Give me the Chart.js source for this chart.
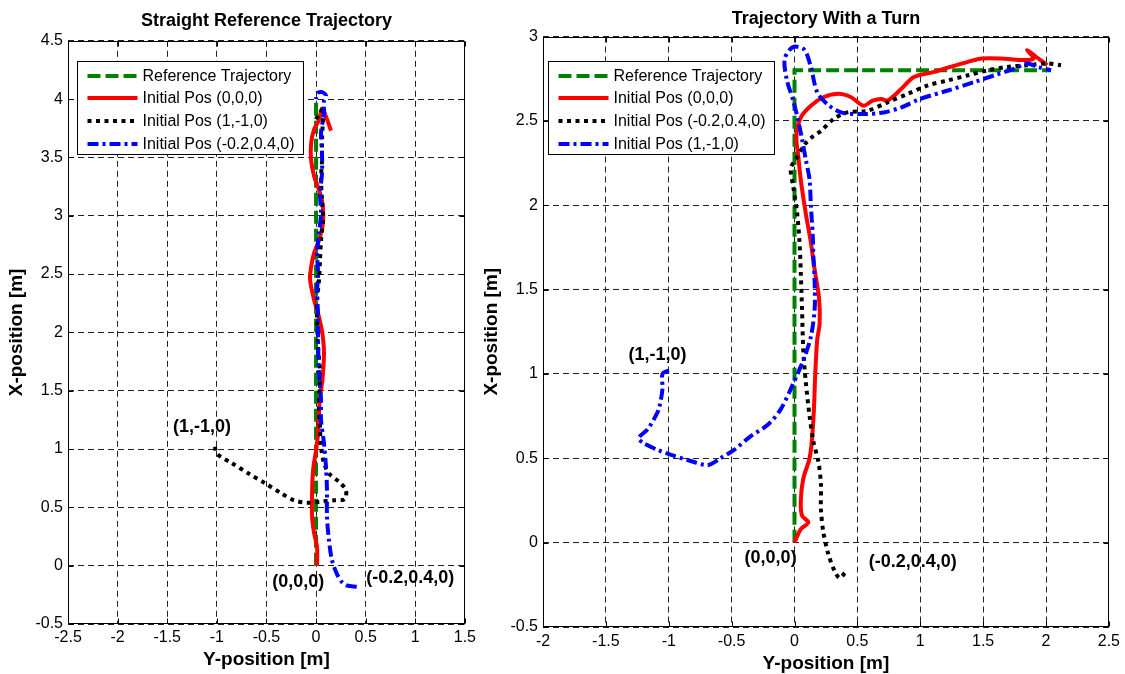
<!DOCTYPE html>
<html>
<head>
<meta charset="utf-8">
<script src="https://cdn.jsdelivr.net/npm/chart.js@4"></script>
<style>
  body { margin: 0; background: #fff; }
  #straightChart { position: absolute; left: 0; top: 0; }
  #turnChart { position: absolute; left: 480px; top: 0; }
</style>
</head>
<body>
<canvas id="straightChart" width="480" height="674"></canvas>
<canvas id="turnChart" width="645" height="674"></canvas>
<script>
// tick values
const straightXTicks = [-2.5, -2, -1.5, -1, -0.5, 0, 0.5, 1, 1.5];
const straightYTicks = [-0.5, 0, 0.5, 1, 1.5, 2, 2.5, 3, 3.5, 4, 4.5];
const turnXTicks = [-2, -1.5, -1, -0.5, 0, 0.5, 1, 1.5, 2, 2.5];
const turnYTicks = [-0.5, 0, 0.5, 1, 1.5, 2, 2.5, 3];

// series: [Y-position, X-position] pairs
const straightRef = [[0, 0], [0, 4]];
const straightRed = [[0.01, 0], [0.01, 0.16], [-0.02, 0.28], [-0.04, 0.42], [-0.04, 0.62], [-0.03, 0.82], [0, 0.99],
  [0.02, 1.13], [0.03, 1.31], [0.04, 1.45], [0.064, 1.59], [0.08, 1.82], [0.064, 1.99], [0.03, 2.13], [-0.02, 2.28],
  [-0.06, 2.45], [-0.05, 2.56], [-0.02, 2.68], [0.03, 2.79], [0.07, 2.94], [0.064, 3.11], [0.03, 3.22], [-0.02, 3.34],
  [-0.05, 3.48], [-0.05, 3.62], [-0.02, 3.74], [0.03, 3.82], [0.06, 3.92], [0.1, 3.85], [0.15, 3.73]];
const straightBlack = [[-1.02, 1.02], [-1.0, 0.96], [-0.85, 0.88], [-0.68, 0.79], [-0.52, 0.71], [-0.35, 0.62],
  [-0.22, 0.56], [-0.09, 0.54], [0.05, 0.55], [0.18, 0.56], [0.29, 0.57], [0.3, 0.65], [0.23, 0.72], [0.13, 0.79],
  [0.08, 0.88], [0.05, 1.02], [0.04, 1.19], [0.03, 1.36], [0.04, 1.65], [0.02, 1.88], [0.01, 2.11], [0.01, 2.28],
  [0.03, 2.45], [0.04, 2.62], [0.05, 2.79], [0.07, 2.96], [0.06, 3.14], [0.05, 3.31], [0.06, 3.48], [0.06, 3.65],
  [0.07, 3.82], [0.08, 3.93], [0.03, 3.87], [-0.02, 3.8]];
const straightBlue = [[0.41, -0.18], [0.31, -0.17], [0.26, -0.14], [0.21, -0.07], [0.16, 0.05], [0.13, 0.22],
  [0.11, 0.42], [0.11, 0.65], [0.1, 0.85], [0.08, 1.05], [0.05, 1.25], [0.05, 1.42], [0.03, 1.65], [0.02, 1.93],
  [0.02, 2.16], [0.01, 2.34], [0.02, 2.51], [0.01, 2.68], [0.03, 2.85], [0.05, 3.02], [0.04, 3.19], [0.06, 3.36],
  [0.06, 3.54], [0.05, 3.71], [0.08, 3.88], [0.08, 3.99], [0.1, 4.03], [0.06, 4.06], [0.01, 4.05], [0, 4.0]];

const turnRef = [[0, 0], [0, 2.8], [2.04, 2.8]];
const turnRed = [[0, 0], [0.05, 0.08], [0.11, 0.12], [0.06, 0.16], [0.05, 0.25], [0.07, 0.38], [0.12, 0.5],
  [0.14, 0.62], [0.155, 0.8], [0.165, 1.0], [0.18, 1.2], [0.2, 1.3], [0.195, 1.45], [0.16, 1.62], [0.13, 1.78],
  [0.09, 1.95], [0.05, 2.15], [0.03, 2.29], [0.015, 2.41], [0.05, 2.52], [0.13, 2.59], [0.23, 2.64], [0.35, 2.66],
  [0.45, 2.64], [0.55, 2.59], [0.62, 2.62], [0.69, 2.63], [0.74, 2.62], [0.85, 2.69], [0.95, 2.76], [1.11, 2.79],
  [1.24, 2.82], [1.38, 2.85], [1.49, 2.87], [1.64, 2.87], [1.83, 2.86], [1.9, 2.87], [1.85, 2.92], [1.92, 2.88],
  [2.01, 2.83]];
const turnBlack = [[0.4, -0.18], [0.36, -0.21], [0.32, -0.17], [0.27, -0.07], [0.23, 0.06], [0.21, 0.2],
  [0.21, 0.35], [0.19, 0.48], [0.15, 0.6], [0.12, 0.75], [0.09, 0.95], [0.07, 1.14], [0.06, 1.38], [0.05, 1.6],
  [0.04, 1.78], [0.02, 1.96], [-0.01, 2.11], [-0.03, 2.22], [0.01, 2.27], [0.08, 2.36], [0.15, 2.41], [0.21, 2.44],
  [0.31, 2.51], [0.42, 2.55], [0.58, 2.56], [0.74, 2.61], [0.9, 2.66], [1.06, 2.71], [1.22, 2.74], [1.38, 2.77],
  [1.54, 2.8], [1.69, 2.82], [1.85, 2.83], [2.01, 2.84], [2.12, 2.83]];
const turnBlue = [[-1.0, 1.02], [-1.05, 1.0], [-1.05, 0.91], [-1.08, 0.79], [-1.12, 0.73], [-1.17, 0.67],
  [-1.24, 0.62], [-1.2, 0.59], [-1.09, 0.55], [-0.98, 0.52], [-0.85, 0.49], [-0.69, 0.46], [-0.59, 0.5],
  [-0.48, 0.55], [-0.35, 0.63], [-0.21, 0.7], [-0.11, 0.79], [-0.03, 0.91], [0.03, 1.01], [0.08, 1.1], [0.13, 1.22],
  [0.16, 1.38], [0.16, 1.55], [0.15, 1.7], [0.145, 1.82], [0.13, 2.0], [0.12, 2.15], [0.09, 2.27], [0.06, 2.39],
  [0.03, 2.5], [-0.01, 2.62], [-0.06, 2.74], [-0.08, 2.86], [-0.04, 2.92], [0.01, 2.94], [0.08, 2.92], [0.13, 2.82],
  [0.18, 2.67], [0.26, 2.6], [0.37, 2.55], [0.53, 2.54], [0.71, 2.55], [0.85, 2.58], [1.0, 2.63], [1.22, 2.68],
  [1.43, 2.73], [1.59, 2.77], [1.75, 2.81], [1.85, 2.84], [1.93, 2.82], [2.04, 2.8]];

// start point labels: [text, Y-position, X-position]
const straightNotes = [['(1,-1,0)', -1.15, 1.19], ['(0,0,0)', -0.18, -0.14], ['(-0.2,0.4,0)', 0.95, -0.11]];
const turnNotes = [['(1,-1,0)', -1.09, 1.11], ['(0,0,0)', -0.19, -0.09], ['(-0.2,0.4,0)', 0.94, -0.115]];

const FONT = '"Liberation Sans", Arial, sans-serif';
Chart.defaults.font.family = FONT;
Chart.defaults.color = '#000';

const lineStyles = {
  ref: { color: '#008000', dash: [13, 5] },
  red: { color: '#ff0000', dash: [] },
  black: { color: '#000000', dash: [4, 4.5] },
  blue: { color: '#0000ff', dash: [11, 4, 3, 4] }
};

function series(label, pts, style, order, tension) {
  const s = lineStyles[style];
  return {
    label: label,
    data: pts.map(p => ({ x: p[0], y: p[1] })),
    showLine: true,
    borderColor: s.color,
    backgroundColor: s.color,
    borderDash: s.dash,
    borderWidth: 4,
    borderCapStyle: 'butt',
    pointRadius: 0,
    tension: tension,
    order: order
  };
}

// box, inside ticks, start labels and legend inside the axes
const framePlugin = {
  id: 'frame',
  afterDatasetsDraw(chart, args, opts) {
    const { ctx, chartArea: a, scales: { x, y } } = chart;
    ctx.save();
    ctx.setLineDash([]);
    ctx.strokeStyle = '#000';
    ctx.lineWidth = 1;
    const l = Math.round(a.left) + 0.5, t = Math.round(a.top) + 0.5;
    const r = Math.round(a.right) - 0.5, b = Math.round(a.bottom) - 0.5;
    ctx.strokeRect(l, t, r - l, b - t);
    ctx.beginPath();
    opts.xTicks.forEach(v => {
      const px = Math.round(x.getPixelForValue(v)) + 0.5;
      ctx.moveTo(px, t); ctx.lineTo(px, t + 5);
      ctx.moveTo(px, b); ctx.lineTo(px, b - 5);
    });
    opts.yTicks.forEach(v => {
      const py = Math.round(y.getPixelForValue(v)) + 0.5;
      ctx.moveTo(l, py); ctx.lineTo(l + 5, py);
      ctx.moveTo(r, py); ctx.lineTo(r - 5, py);
    });
    ctx.stroke();

    ctx.font = 'bold 18px ' + FONT;
    ctx.fillStyle = '#000';
    ctx.textAlign = 'center';
    ctx.textBaseline = 'middle';
    opts.notes.forEach(n => ctx.fillText(n[0], x.getPixelForValue(n[1]), y.getPixelForValue(n[2])));

    const bx = Math.round(a.left + opts.legendDx) + 0.5, by = Math.round(a.top + opts.legendDy) + 0.5;
    ctx.fillStyle = '#fff';
    ctx.fillRect(bx, by, 226, 93);
    ctx.strokeRect(bx, by, 226, 93);
    ctx.font = '16px ' + FONT;
    ctx.textAlign = 'left';
    chart.data.datasets.forEach((ds, i) => {
      const ry = Math.round(by + 14 + i * 22.8);
      ctx.beginPath();
      ctx.setLineDash(ds.borderDash);
      ctx.strokeStyle = ds.borderColor;
      ctx.lineWidth = 4;
      ctx.lineCap = 'butt';
      ctx.moveTo(bx + 10, ry);
      ctx.lineTo(bx + 60, ry);
      ctx.stroke();
      ctx.setLineDash([]);
      ctx.fillStyle = '#000';
      ctx.fillText(ds.label, bx + 65, ry + 1);
    });
    ctx.restore();
  }
};

function axis(min, max, ticks, title, size, tickPad, titlePad, vertical) {
  return {
    type: 'linear',
    min: min,
    max: max,
    afterBuildTicks: s => { s.ticks = ticks.map(v => ({ value: v })); },
    afterFit: s => { if (vertical) s.width = size; else s.height = size; },
    ticks: { padding: tickPad, font: { size: 16 }, autoSkip: false, maxRotation: 0, callback: v => String(v) },
    grid: { color: '#222', lineWidth: 1, drawTicks: false },
    border: { display: false, dash: [6, 4] },
    title: {
      display: true, text: title, color: '#000',
      font: { size: 19, weight: 'bold', lineHeight: 1 },
      padding: vertical ? { top: titlePad, bottom: 0 } : { top: 0, bottom: titlePad }
    }
  };
}

new Chart(document.getElementById('straightChart'), {
  type: 'scatter',
  data: {
    datasets: [
      series('Reference Trajectory', straightRef, 'ref', 4, 0),
      series('Initial Pos (0,0,0)', straightRed, 'red', 3, 0.3),
      series('Initial Pos (1,-1,0)', straightBlack, 'black', 2, 0.3),
      series('Initial Pos (-0.2,0.4,0)', straightBlue, 'blue', 1, 0.3)
    ]
  },
  options: {
    responsive: false,
    animation: false,
    layout: { padding: { left: 0, right: 11, top: 0, bottom: 0 } },
    scales: {
      x: axis(-2.5, 1.5, straightXTicks, 'Y-position [m]', 50, 4, 4.5, false),
      y: axis(-0.5, 4.5, straightYTicks, 'X-position [m]', 68, 5, 7.5, true)
    },
    plugins: {
      legend: { display: false },
      tooltip: { enabled: false },
      title: {
        display: true, text: 'Straight Reference Trajectory', fullSize: false, color: '#000',
        font: { size: 18, weight: 'bold', lineHeight: 1.2 },
        padding: { top: 10.7, bottom: 8.5 }
      },
      frame: { xTicks: straightXTicks, yTicks: straightYTicks, notes: straightNotes, legendDx: 9, legendDy: 20 }
    }
  },
  plugins: [framePlugin]
});

new Chart(document.getElementById('turnChart'), {
  type: 'scatter',
  data: {
    datasets: [
      series('Reference Trajectory', turnRef, 'ref', 4, 0),
      series('Initial Pos (0,0,0)', turnRed, 'red', 3, 0.3),
      series('Initial Pos (-0.2,0.4,0)', turnBlack, 'black', 2, 0.3),
      series('Initial Pos (1,-1,0)', turnBlue, 'blue', 1, 0.3)
    ]
  },
  options: {
    responsive: false,
    animation: false,
    layout: { padding: { left: 0, right: 13, top: 0, bottom: 0 } },
    scales: {
      x: axis(-2, 2.5, turnXTicks, 'Y-position [m]', 47, 5, 0.5, false),
      y: axis(-0.5, 3, turnYTicks, 'X-position [m]', 63, 5, 2.5, true)
    },
    plugins: {
      legend: { display: false },
      tooltip: { enabled: false },
      title: {
        display: true, text: 'Trajectory With a Turn', fullSize: false, color: '#000',
        font: { size: 18, weight: 'bold', lineHeight: 1.2 },
        padding: { top: 8.5, bottom: 6.4 }
      },
      frame: { xTicks: turnXTicks, yTicks: turnYTicks, notes: turnNotes, legendDx: 5, legendDy: 24.5 }
    }
  },
  plugins: [framePlugin]
});
</script>
</body>
</html>
